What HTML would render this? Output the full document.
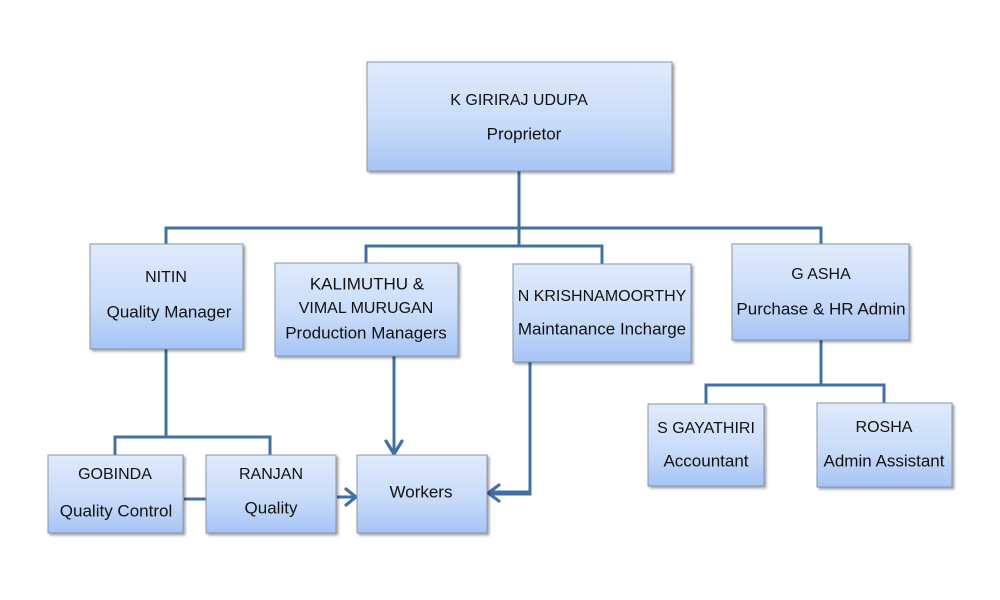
<!DOCTYPE html>
<html><head><meta charset="utf-8"><style>
html,body{margin:0;padding:0;background:#fff;}
svg{display:block;}
text{font-family:"Liberation Sans",sans-serif;font-size:17px;fill:#111;text-anchor:middle;dominant-baseline:middle;}
text.c{font-size:16px;}
</style></head><body>
<svg width="1000" height="600" viewBox="0 0 1000 600" xmlns="http://www.w3.org/2000/svg">
<defs>
<linearGradient id="g" x1="0" y1="0" x2="0" y2="1">
<stop offset="0" stop-color="#e0ebfc"/>
<stop offset="0.6" stop-color="#c6daf9"/>
<stop offset="1" stop-color="#a6c4f5"/>
</linearGradient>
<filter id="sh" x="-10%" y="-10%" width="130%" height="130%">
<feDropShadow dx="2" dy="2" stdDeviation="1.2" flood-color="#000" flood-opacity="0.35"/>
</filter>
</defs>

<g stroke="#4170a6" stroke-width="3" fill="none">
<polyline points="519,171 519,247"/>
<polyline points="166,244 166,228 821,228 821,244"/>
<polyline points="366,263 366,246 602,246 602,264"/>
<polyline points="166,349 166,437"/>
<polyline points="115,455 115,437 270,437 270,455"/>
<line x1="184" y1="499" x2="210" y2="499"/>
<line x1="337" y1="497" x2="354" y2="497"/>
<line x1="394" y1="356" x2="394" y2="452"/>
<polyline points="530,362 530,494 491,494"/>
<line x1="490" y1="492" x2="530" y2="492"/>
<polyline points="821,340 821,385"/>
<polyline points="706,404 706,385 884,385 884,403"/>
</g>
<g stroke="#4170a6" stroke-width="3.2" fill="none" stroke-linecap="round" stroke-linejoin="round">
<polyline points="386,441 394,454 402,441"/>
<polyline points="346,489 356,497 346,505"/>
<polyline points="499,485 488,493 499,501"/>
</g>

<g fill="url(#g)" stroke="#8796aa" stroke-width="1" filter="url(#sh)">
<rect x="367" y="62" width="305" height="109"/>
<rect x="90" y="244" width="153" height="105"/>
<rect x="275" y="263" width="183" height="93"/>
<rect x="513" y="264" width="178" height="98"/>
<rect x="732" y="244" width="177" height="96"/>
<rect x="648" y="404" width="116" height="82"/>
<rect x="817" y="403" width="135" height="84"/>
<rect x="48" y="455" width="135" height="78"/>
<rect x="206" y="455" width="130" height="78"/>
<rect x="357" y="455" width="130" height="78"/>
</g>

<text class="c" x="519" y="101">K GIRIRAJ UDUPA</text>
<text x="524" y="135">Proprietor</text>

<text class="c" x="166" y="278">NITIN</text>
<text x="169" y="313">Quality Manager</text>

<text x="367" y="285">KALIMUTHU  &amp;</text>
<text class="c" x="366" y="309">VIMAL MURUGAN</text>
<text x="366" y="334">Production  Managers</text>

<text class="c" x="602" y="297">N KRISHNAMOORTHY</text>
<text x="602" y="330">Maintanance Incharge</text>

<text class="c" x="821" y="275">G ASHA</text>
<text x="821" y="310">Purchase &amp; HR Admin</text>

<text class="c" x="706" y="429">S GAYATHIRI</text>
<text x="706" y="462">Accountant</text>

<text class="c" x="884" y="428">ROSHA</text>
<text x="884" y="462">Admin Assistant</text>

<text class="c" x="115" y="475">GOBINDA</text>
<text x="116" y="512">Quality Control</text>

<text class="c" x="271" y="475">RANJAN</text>
<text x="271" y="509">Quality</text>

<text x="421" y="493">Workers</text>
</svg>
</body></html>
